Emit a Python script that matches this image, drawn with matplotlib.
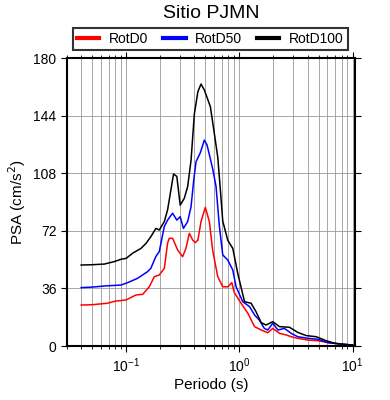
import numpy as np
import matplotlib.pyplot as plt

plt.rcParams['font.family'] = ['Liberation Sans', 'DejaVu Sans']

# RotD100 (black)
t_d100 = [0.04, 0.05, 0.064, 0.078, 0.09, 0.1, 0.114, 0.135, 0.15, 0.165, 0.183, 0.196,
          0.217, 0.232, 0.262, 0.28, 0.30, 0.326, 0.349, 0.374, 0.40, 0.43, 0.458, 0.49,
          0.554, 0.60, 0.644, 0.68, 0.713, 0.79, 0.874, 0.967, 1.11, 1.27, 1.4, 1.56,
          1.72, 1.97, 2.26, 2.77, 3.28, 3.89, 4.77, 5.85, 6.93, 8.5, 10.0]
psa_d100 = [50.6, 50.8, 51.2, 52.7, 54.2, 54.8, 58.0, 61.0, 64.2, 68.3, 73.5, 72.5,
            77.7, 85.0, 107.5, 106.0, 88.0, 92.3, 99.6, 116.0, 145.0, 159.0, 163.7, 160.0,
            149.6, 133.0, 118.0, 97.0, 78.0, 66.0, 61.0, 45.4, 27.7, 26.7, 21.5, 14.6,
            13.1, 15.2, 12.1, 11.7, 8.5, 6.5, 5.8, 3.3, 1.7, 1.0, 0.6]

# RotD50 (blue)
t_d50 = [0.04, 0.05, 0.064, 0.09, 0.103, 0.126, 0.154, 0.165, 0.183, 0.196, 0.217,
         0.232, 0.257, 0.28, 0.30, 0.32, 0.349, 0.374, 0.395, 0.414, 0.452, 0.49, 0.518,
         0.58, 0.622, 0.665, 0.713, 0.79, 0.874, 0.935, 1.07, 1.23, 1.36, 1.5, 1.66,
         1.78, 1.97, 2.19, 2.5, 2.87, 3.28, 4.03, 4.95, 6.06, 7.94, 10.0]
psa_d50 = [36.5, 36.8, 37.5, 38.1, 39.6, 42.3, 46.4, 48.5, 56.0, 59.0, 74.6,
           78.7, 83.0, 78.7, 80.8, 73.5, 77.7, 87.0, 103.7, 115.2, 120.8, 128.7, 125.6,
           111.0, 99.6, 75.0, 56.9, 53.7, 47.5, 37.0, 27.7, 24.6, 19.4, 16.2, 11.0,
           10.0, 14.2, 10.0, 11.0, 7.9, 5.8, 4.8, 4.2, 2.1, 1.2, 0.6]

# RotD0 (red)
t_d0 = [0.04, 0.05, 0.068, 0.081, 0.09, 0.1, 0.122, 0.14, 0.16, 0.177, 0.196, 0.217,
        0.232, 0.24, 0.257, 0.285, 0.315, 0.337, 0.361, 0.387, 0.408, 0.43, 0.458, 0.50,
        0.543, 0.58, 0.644, 0.713, 0.79, 0.857, 0.9, 1.035, 1.19, 1.36, 1.56, 1.78,
        1.97, 2.26, 2.59, 2.87, 3.28, 4.03, 4.95, 6.06, 7.94, 10.0]
psa_d0 = [25.6, 25.8, 26.7, 28.1, 28.4, 28.8, 31.9, 32.3, 37.0, 43.3, 44.4, 48.5,
          64.2, 67.3, 67.3, 60.0, 55.8, 61.0, 70.4, 66.2, 64.6, 66.2, 77.7, 86.7,
          77.7, 60.0, 43.3, 37.0, 37.0, 39.6, 33.5, 26.7, 20.4, 12.1, 10.0, 8.3,
          11.0, 7.9, 6.9, 5.8, 4.8, 3.7, 3.3, 2.1, 1.2, 0.6]

yticks = [0, 36, 72, 108, 144, 180]

fig = plt.figure(figsize=(3.9, 4.0), dpi=100)
ax = fig.add_axes([67/390, 1 - 346/400, 288/390, 288/400])

ax.plot(t_d0, psa_d0, color='red', lw=1.1, label='RotD0')
ax.plot(t_d50, psa_d50, color='blue', lw=1.1, label='RotD50')
ax.plot(t_d100, psa_d100, color='black', lw=1.1, label='RotD100')

ax.set_xscale('log')
ax.set_xlim(0.03, 10.5)
ax.set_ylim(0, 180)
ax.set_yticks(yticks)

ax.grid(True, which='both', axis='x', color='#999999', lw=0.6)
ax.grid(True, which='major', axis='y', color='#999999', lw=0.6)
ax.set_axisbelow(True)

for s in ax.spines.values():
    s.set_linewidth(1.5)
ax.tick_params(which='major', direction='out', length=4, width=0.8,
               top=True, right=True, labelsize=10)
ax.tick_params(which='minor', direction='out', length=2.5, width=0.6,
               top=True, right=False)
ax.tick_params(axis='y', which='minor', left=False, right=False)

ax.set_xlabel('Periodo (s)', fontsize=11, labelpad=2)
ax.set_ylabel('PSA (cm/s$^2$)', fontsize=11, labelpad=4)

fig.text(211/390, 1 - 14/400, 'Sitio PJMN', ha='center', va='center', fontsize=14)

leg = fig.legend(loc='center', bbox_to_anchor=(73/390, 1 - 50/400, 275/390, 22/400),
                 mode='expand', ncol=3, fontsize=10, frameon=True, fancybox=False,
                 handlelength=1.6, handletextpad=0.7, borderaxespad=0, borderpad=0.3,
                 columnspacing=1.2)
leg.get_frame().set_edgecolor('black')
leg.get_frame().set_linewidth(1.5)
for h in leg.get_lines():
    h.set_linewidth(3)

fig.savefig('out.png', dpi=100)
